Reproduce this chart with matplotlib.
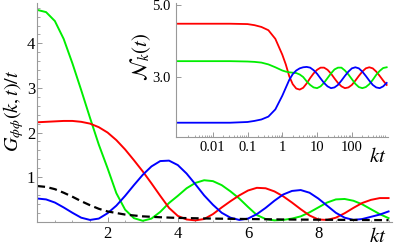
import numpy as np
import matplotlib.pyplot as plt
from matplotlib.ticker import MultipleLocator, LogLocator, NullFormatter

plt.rcParams['font.family'] = ['Liberation Serif', 'DejaVu Serif']
plt.rcParams['mathtext.fontset'] = 'stix'

# main panel: G_phiphi(k,t)/t against kt
kt = [0.0, 0.25, 0.5, 0.75, 1.0, 1.25, 1.5, 1.75, 2.0, 2.25,
      2.5, 2.75, 3.0, 3.25, 3.5, 3.75, 4.0, 4.25, 4.5, 4.75,
      5.0, 5.25, 5.5, 5.75, 6.0, 6.25, 6.5, 6.75, 7.0, 7.25,
      7.5, 7.75, 8.0, 8.25, 8.5, 8.75, 9.0, 9.25, 9.5, 9.75, 10.0]
g_green = [4.75, 4.70, 4.50, 4.10, 3.55, 2.95, 2.33, 1.73, 1.20, 0.64,
           0.27, 0.08, 0.02, 0.07, 0.22, 0.42, 0.58, 0.75, 0.87, 0.93,
           0.91, 0.82, 0.68, 0.52, 0.33, 0.15, 0.06, 0.03, 0.04, 0.07,
           0.12, 0.21, 0.32, 0.43, 0.50, 0.51, 0.47, 0.39, 0.28, 0.17, 0.08]
g_red = [2.23, 2.24, 2.25, 2.26, 2.26, 2.24, 2.20, 2.12, 2.00, 1.83,
         1.62, 1.38, 1.13, 0.86, 0.58, 0.31, 0.13, 0.05, 0.03, 0.06,
         0.17, 0.32, 0.46, 0.59, 0.70, 0.76, 0.75, 0.68, 0.57, 0.43,
         0.28, 0.14, 0.05, 0.04, 0.09, 0.19, 0.31, 0.42, 0.49, 0.53, 0.53]
g_blue = [0.52, 0.50, 0.43, 0.32, 0.20, 0.09, 0.04, 0.07, 0.19, 0.36,
          0.58, 0.82, 1.05, 1.24, 1.36, 1.37, 1.27, 1.08, 0.84, 0.59,
          0.38, 0.20, 0.09, 0.04, 0.07, 0.17, 0.31, 0.47, 0.61, 0.69,
          0.71, 0.65, 0.52, 0.36, 0.20, 0.09, 0.04, 0.06, 0.11, 0.16, 0.23]
kt_dash = [0.0, 0.25, 0.5, 0.75, 1.0, 1.25, 1.5, 1.75, 2.0, 2.5,
           3.0, 3.5, 4.0, 5.0, 6.0, 7.0, 8.0, 9.0, 10.0]
g_dash = [0.80, 0.78, 0.73, 0.65, 0.56, 0.46, 0.37, 0.29, 0.23, 0.16,
          0.12, 0.10, 0.085, 0.07, 0.06, 0.05, 0.045, 0.04, 0.035]

# inset: N_k(t) against kt on a log axis, positions as log10(kt)
log_kt_in = [-3.0, -2.0, -1.5, -1.0, -0.8, -0.6, -0.4, -0.2,
             0.0, 0.1, 0.2, 0.3, 0.4, 0.5, 0.6, 0.7, 0.8, 0.9,
             1.0, 1.1, 1.2, 1.3, 1.4, 1.5, 1.6, 1.7, 1.8, 1.9,
             2.0, 2.1, 2.2, 2.3, 2.4, 2.5, 2.6, 2.7, 2.8, 2.9, 3.0]
n_red = [4.48, 4.48, 4.48, 4.47, 4.44, 4.39, 4.30, 4.06,
         3.62, 3.35, 3.02, 2.80, 2.68, 2.65, 2.70, 2.82, 2.97, 3.10,
         3.20, 3.26, 3.26, 3.20, 3.095, 2.96, 2.835, 2.74, 2.69, 2.71,
         2.78, 2.90, 3.03, 3.15, 3.24, 3.27, 3.24, 3.15, 3.03, 2.90, 2.78]
n_green = [3.44, 3.44, 3.44, 3.43, 3.42, 3.40, 3.35, 3.27,
           3.18, 3.15, 3.13, 3.12, 3.11, 3.07, 3.00, 2.88, 2.78, 2.71,
           2.69, 2.74, 2.84, 2.97, 3.10, 3.21, 3.26, 3.26, 3.18, 3.07,
           2.94, 2.81, 2.72, 2.69, 2.72, 2.80, 2.92, 3.06, 3.17, 3.25, 3.27]
n_blue = [1.73, 1.73, 1.73, 1.75, 1.78, 1.82, 1.90, 2.10,
          2.48, 2.70, 2.92, 3.08, 3.18, 3.24, 3.27, 3.28, 3.26, 3.19,
          3.09, 2.96, 2.835, 2.74, 2.69, 2.71, 2.78, 2.90, 3.03, 3.15,
          3.24, 3.27, 3.24, 3.15, 3.03, 2.90, 2.78, 2.71, 2.69, 2.74, 2.835]

red = '#ff0000'
green = '#00ee00'
blue = '#0000ff'
grey = '#999999'

fig = plt.figure(figsize=(3.94, 2.49), dpi=100)

ax = fig.add_axes([0.0947, 0.1096, 0.8995, 0.8775])
ax.plot(kt, g_green, color=green, lw=1.4)
ax.plot(kt, g_red, color=red, lw=1.4)
ax.plot(kt, g_blue, color=blue, lw=1.4)
ax.plot(kt_dash, g_dash, color='black', lw=1.6, dashes=(3.5, 2))
ax.set_xlim(0, 10.09)
ax.set_ylim(0, 4.9)
ax.set_xticks([2, 4, 6, 8])
ax.set_yticks([1, 2, 3, 4])
ax.xaxis.set_minor_locator(MultipleLocator(0.5))
ax.yaxis.set_minor_locator(MultipleLocator(0.2))
for s in ['top', 'right']:
    ax.spines[s].set_visible(False)
for s in ['left', 'bottom']:
    ax.spines[s].set_color(grey)
    ax.spines[s].set_linewidth(0.8)
ax.tick_params(which='both', direction='in', color=grey, labelsize=12)
ax.tick_params(which='major', length=3.5, width=0.7)
ax.tick_params(which='minor', length=1.8, width=0.6)
ax.tick_params(axis='x', pad=3)
ax.tick_params(axis='y', pad=1.5)

fig.text(14 / 394, 1 - 111 / 249, r'$G_{\phi\phi}(k,t)/t$', rotation=90,
         ha='center', va='center', fontsize=14.5)
fig.text(378 / 394, 1 - 237 / 249, r'$kt$', ha='center', va='center', fontsize=15)

# inset
axi = fig.add_axes([0.4472, 0.4498, 0.5386, 0.5382])
kt_in = 10.0 ** np.array(log_kt_in)
axi.plot(kt_in, n_red, color=red, lw=1.3)
axi.plot(kt_in, n_green, color=green, lw=1.3)
axi.plot(kt_in, n_blue, color=blue, lw=1.3)
axi.set_xscale('log')
axi.set_xlim(10 ** -3.05, 10 ** 3.05)
axi.set_ylim(1.333, 5.056)
axi.set_xticks([0.01, 0.1, 1, 10, 100])
axi.set_xticklabels(['0.01', '0.1', '1', '10', '100'])
axi.xaxis.set_minor_locator(LogLocator(base=10, subs=np.arange(2, 10), numticks=20))
axi.xaxis.set_minor_formatter(NullFormatter())
axi.set_yticks([3.0, 5.0])
axi.set_yticklabels(['3.0', '5.0'])
for s in ['top', 'right']:
    axi.spines[s].set_visible(False)
for s in ['left', 'bottom']:
    axi.spines[s].set_color(grey)
    axi.spines[s].set_linewidth(0.8)
axi.tick_params(which='both', direction='in', color=grey, labelsize=10.5)
axi.tick_params(which='major', length=3.5, width=0.7)
axi.tick_params(which='minor', length=1.8, width=0.6)
axi.tick_params(axis='x', pad=3)
axi.tick_params(axis='y', pad=4)

fig.text(141 / 394, 1 - 57 / 249, r'$\mathcal{N}_k(t)$', rotation=90,
         ha='center', va='center', fontsize=15)
fig.text(378 / 394, 1 - 158 / 249, r'$kt$', ha='center', va='center', fontsize=15)

fig.savefig('out.png', dpi=100)
